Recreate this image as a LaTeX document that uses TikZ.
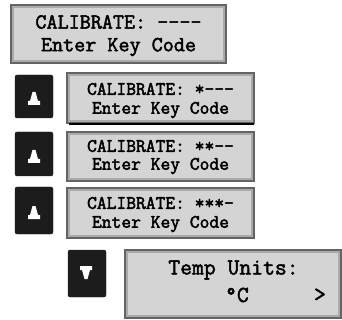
\documentclass[tikz,border=0pt]{standalone}
\usepackage{fontspec}
\definecolor{lcdfill}{RGB}{212,212,212}
\definecolor{lcdedge}{RGB}{100,100,100}
\definecolor{lcdinner}{RGB}{170,170,170}
\definecolor{btn}{RGB}{28,28,28}
\newcommand{\heavy}[1]{\special{pdf:literal direct 2 Tr 0.45 w}#1\special{pdf:literal direct 0 Tr}}
\tikzset{
  lcd/.style={draw=lcdedge, line width=2pt, fill=lcdfill, inner sep=0pt, minimum width=#1},
  lcdtext/.style={font=\ttfamily\fontsize{19}{21}\selectfont, inner sep=0pt, anchor=center},
  bigtext/.style={font=\ttfamily\fontsize{21.5}{23}\selectfont, inner sep=0pt, anchor=center},
  huge/.style={font=\ttfamily\fontsize{23}{25}\selectfont, inner sep=0pt, anchor=center},
  button/.style={fill=btn, draw=btn, rounded corners=2pt, inner sep=0pt, minimum width=38pt},
  arrowmark/.style={fill=white, draw=none}
}
\newcommand{\upmark}[2]{%
  \fill[arrowmark] (#1-1.5,#2-6) -- (#1+1.5,#2-6) -- (#1+4,#2+3) -- (#1+6,#2+3) -- (#1+6,#2+7) -- (#1-6,#2+7) -- (#1-6,#2+3) -- (#1-4,#2+3) -- cycle;}
\newcommand{\downmark}[2]{%
  \fill[arrowmark] (#1-6,#2-7) -- (#1+6,#2-7) -- (#1+6,#2-3) -- (#1+4,#2-3) -- (#1+1.5,#2+6) -- (#1-1.5,#2+6) -- (#1-4,#2-3) -- (#1-6,#2-3) -- cycle;}
\begin{document}
\begin{tikzpicture}[x=1pt,y=-1pt]
\useasboundingbox (0,0) rectangle (342,320);
% LCD boxes
\node[lcd=215pt, minimum height=58pt] (b1) at (118.5,34) {};
\node[lcd=187pt, minimum height=50pt] (b2) at (160.5,98) {};
\node[lcd=187pt, minimum height=49pt] (b3) at (160.5,156.5) {};
\node[lcd=187pt, minimum height=50pt] (b4) at (160.5,213) {};
\node[lcd=216pt, minimum height=68pt] (b5) at (233,284) {};
% inner bevel lines
\foreach \b in {b1,b2,b3,b4,b5}{
  \draw[lcdinner, line width=1.2pt] ([shift={(3pt,-3pt)}]\b.north west) rectangle ([shift={(-3pt,3pt)}]\b.south east);
}
\draw[black, line width=1.5pt] ([xshift=3pt]b2.south west) -- ([xshift=-1pt]b2.south east);
% texts
\node[bigtext] (t1a) at (118.5,22) {\heavy{CALIBRATE: ----}};
\node[bigtext] (t1b) at (118.5,47) {\heavy{Enter Key Code}};
\node[lcdtext] (t2a) at (160.5,89) {\heavy{CALIBRATE: *---}};
\node[lcdtext] (t2b) at (160.5,110) {\heavy{Enter Key Code}};
\node[lcdtext] (t3a) at (160.5,146) {\heavy{CALIBRATE: **--}};
\node[lcdtext] (t3b) at (160.5,166) {\heavy{Enter Key Code}};
\node[lcdtext] (t4a) at (160.5,203) {\heavy{CALIBRATE: ***-}};
\node[lcdtext] (t4b) at (160.5,224) {\heavy{Enter Key Code}};
\node[huge] (t5a) at (233.5,270) {\heavy{Temp Units:}};
\node[huge] (t5b) at (237,295) {\heavy{°C}};
\node[huge] (t5c) at (320,295) {\heavy{>}};
% buttons
\node[button, minimum height=43pt] (k1) at (34,96.5) {};
\node[button, minimum height=44pt] (k2) at (34,154) {};
\node[button, minimum height=47pt] (k3) at (34,210.5) {};
\node[button, minimum height=47pt] (k4) at (87,273.5) {};
\upmark{34}{98}
\upmark{34}{156}
\upmark{34}{212}
\downmark{86}{273}
\end{tikzpicture}
\end{document}
